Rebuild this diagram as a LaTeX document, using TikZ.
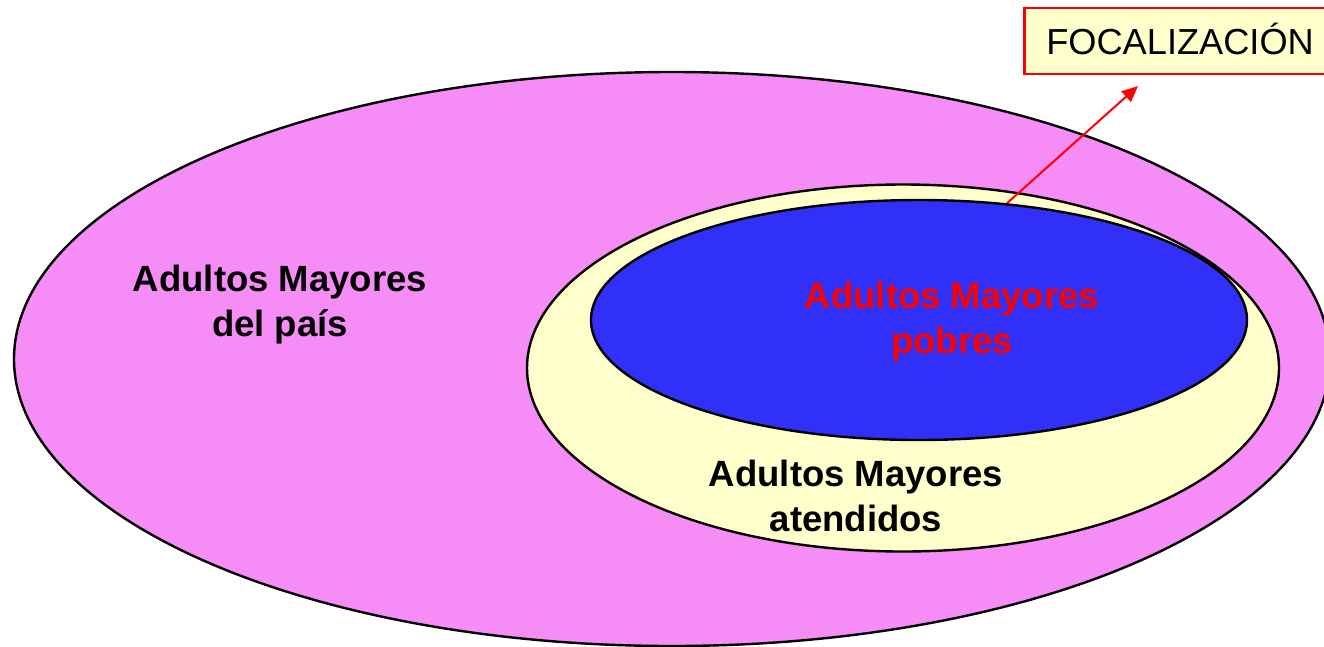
\documentclass[tikz,border=0pt]{standalone}
\usepackage{fontspec}
\setmainfont{Liberation Sans}
\usetikzlibrary{shapes.geometric,arrows.meta}
\definecolor{paisPink}{HTML}{F68CF6}
\definecolor{atendYellow}{HTML}{FFFFCC}
\definecolor{pobreBlue}{HTML}{3030F8}
\tikzset{
  conjunto/.style={ellipse,draw=black,line width=2.4pt,inner sep=0pt},
  rotulo/.style={align=center,font=\fontsize{36.5}{45}\selectfont\bfseries}
}

\begin{document}
\begin{tikzpicture}[x=1pt,y=-1pt]
\useasboundingbox (0,0) rectangle (1324,646);
\node[conjunto,fill=paisPink,minimum width=1316pt,minimum height=574pt]     (pais)      at ( 672, 359) {};
\node[conjunto,fill=atendYellow,minimum width=752pt,minimum height=367pt]   (atendidos) at ( 903, 368) {};
\node[conjunto,fill=pobreBlue,minimum width=656pt,minimum height=240pt]     (pobres)    at ( 919, 320) {};

\node[rotulo]                 (paisText)      at ( 280, 305) {Adultos Mayores\\del país};
\node[rotulo,text=red]        (pobresText)    at ( 952, 322) {Adultos Mayores\\pobres};
\node[rotulo]                 (atendidosText) at ( 856, 496) {Adultos Mayores\\atendidos};

\node[draw=red,line width=2.6pt,fill=atendYellow,minimum height=66pt,minimum width=310pt,
      font=\fontsize{36.2}{44}\selectfont,anchor=west,align=left,inner xsep=22pt,
      text height=26pt,text depth=0pt]
                              (focalizacion)  at (1023,  41) {FOCALIZACIÓN};
\coordinate                   (flecha)        at (1138,  86);

\draw[red,line width=2pt,-{Triangle[length=16pt,width=14pt]}] (pobres.53) -- (flecha);
\end{tikzpicture}
\end{document}
